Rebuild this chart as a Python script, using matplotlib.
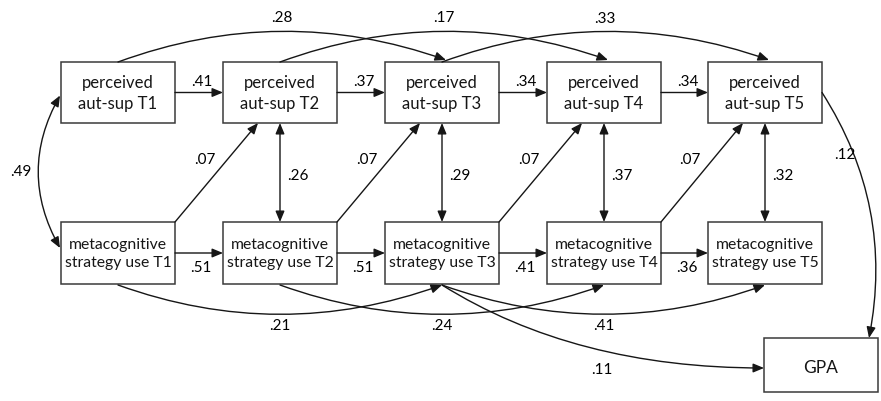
import matplotlib.pyplot as plt
from matplotlib.patches import Rectangle

plt.rcParams['font.family'] = ['Lato', 'DejaVu Sans']

# path model values
aut_labels = ['perceived\naut-sup T1', 'perceived\naut-sup T2', 'perceived\naut-sup T3',
              'perceived\naut-sup T4', 'perceived\naut-sup T5']
meta_labels = ['metacognitive\nstrategy use T1', 'metacognitive\nstrategy use T2',
               'metacognitive\nstrategy use T3', 'metacognitive\nstrategy use T4',
               'metacognitive\nstrategy use T5']
outcome_label = 'GPA'
aut_stability = [0.41, 0.37, 0.34, 0.34]    # aut T(i) -> aut T(i+1)
meta_stability = [0.51, 0.51, 0.41, 0.36]   # meta T(i) -> meta T(i+1)
meta_to_aut = [0.07, 0.07, 0.07, 0.07]      # meta T(i) -> aut T(i+1)
within_corr = [0.49, 0.26, 0.29, 0.37, 0.32]
aut_lag2 = [0.28, 0.17, 0.33]               # aut T(i) -> aut T(i+2)
meta_lag2 = [0.21, 0.24, 0.41]              # meta T(i) -> meta T(i+2)
gpa_from_aut5 = 0.12
gpa_from_meta3 = 0.11

# layout (pixel coordinates, y pointing down)
W, H = 881, 401
box_left = [61, 223, 385, 547, 708]
box_w = 114
top_y0, top_y1 = 62, 123
bot_y0, bot_y1 = 222, 284
gpa_box = (764, 338, 114, 54)

line_c = '#161616'
box_c = '#3a3a3a'
fs = 11  # coefficient labels


def fmt(v):
    return f'{v:.2f}'[1:]


def arrow(ax, p0, p1, style='-|>', conn='arc3,rad=0'):
    ax.annotate('', xy=p1, xytext=p0,
                arrowprops=dict(arrowstyle=style + ',head_length=0.65,head_width=0.27',
                                connectionstyle=conn, color=line_c, lw=1.0,
                                shrinkA=0, shrinkB=0, mutation_scale=10))


def arc_mid(p0, p1, rad):
    # middle point of a matplotlib arc3 curve, in y-down data coords
    dx, dy = p1[0] - p0[0], p1[1] - p0[1]
    mx, my = (p0[0] + p1[0]) / 2, (p0[1] + p1[1]) / 2
    return mx - rad / 2 * dy, my + rad / 2 * dx


def box(ax, x, y, w, h, text, size, spacing=1.3, dy=0):
    ax.add_patch(Rectangle((x, y), w, h, facecolor='white', edgecolor=box_c, lw=1.1, zorder=3))
    ax.text(x + w / 2, y + h / 2 + dy, text, ha='center', va='center', fontsize=size,
            color=line_c, linespacing=spacing, zorder=4)


fig = plt.figure(figsize=(W / 100, H / 100), dpi=100)
ax = fig.add_axes([0, 0, 1, 1])
ax.set_xlim(0, W)
ax.set_ylim(H, 0)
ax.axis('off')

for i in range(5):
    box(ax, box_left[i], top_y0, box_w, top_y1 - top_y0, aut_labels[i], 12, 1.38, dy=1)
    box(ax, box_left[i], bot_y0, box_w, bot_y1 - bot_y0, meta_labels[i], 11.3, 1.45, dy=1)
box(ax, *gpa_box, outcome_label, 12.5, dy=3)

centers = [x + box_w / 2 for x in box_left]
top_mid = (top_y0 + top_y1) / 2
bot_mid = (bot_y0 + bot_y1) / 2

# autoregressive paths
for i in range(4):
    x0, x1 = box_left[i] + box_w, box_left[i + 1]
    arrow(ax, (x0, top_mid), (x1, top_mid))
    ax.text((x0 + x1) / 2 + 3, top_mid - 11, fmt(aut_stability[i]), ha='center', va='center', fontsize=fs)
    arrow(ax, (x0, bot_mid), (x1, bot_mid))
    ax.text((x0 + x1) / 2 + 2, bot_mid + 15, fmt(meta_stability[i]), ha='center', va='center', fontsize=fs)

# cross-lagged paths meta -> aut
for i in range(4):
    p0 = (box_left[i] + box_w, bot_y0)
    p1 = (box_left[i + 1] + 35, top_y1)
    arrow(ax, p0, p1)
    ax.text((p0[0] + p1[0]) / 2 - 12, (p0[1] + p1[1]) / 2 - 13, fmt(meta_to_aut[i]),
            ha='center', va='center', fontsize=fs)

# within-time correlations
rad49 = 0.28
p0, p1 = (box_left[0] - 1, top_mid + 3), (box_left[0] - 1, bot_mid - 5)
arrow(ax, p0, p1, style='<|-|>', conn=f'arc3,rad={rad49}')
mx, my = arc_mid(p0, p1, rad49)
ax.text(mx - 18, my, fmt(within_corr[0]), ha='center', va='center', fontsize=fs)
for i in range(1, 5):
    arrow(ax, (centers[i], top_y1), (centers[i], bot_y0), style='<|-|>')
    ax.text(centers[i] + 18, 176, fmt(within_corr[i]), ha='center', va='center', fontsize=fs)

# lag-2 paths
rad_top, rad_bot = -0.18, 0.18
for i in range(3):
    p0 = (centers[i], top_y0)
    p1 = (centers[i + 2] + 4, top_y0 - 2)
    arrow(ax, p0, p1, conn=f'arc3,rad={rad_top}')
    mx, my = arc_mid(p0, p1, rad_top)
    ax.text(mx, my - 13, fmt(aut_lag2[i]), ha='center', va='center', fontsize=fs)

    p0 = (centers[i], bot_y1 + 1)
    p1 = (centers[i + 2], bot_y1 + 1)
    arrow(ax, p0, p1, conn=f'arc3,rad={rad_bot}')
    mx, my = arc_mid(p0, p1, rad_bot)
    ax.text(mx, my + 12, fmt(meta_lag2[i]), ha='center', va='center', fontsize=fs)

# paths to GPA
gx, gy, gw, gh = gpa_box
p0, p1 = (box_left[4] + box_w, top_mid), (gx + 105, gy)
arrow(ax, p0, p1, conn='arc3,rad=-0.2')
ax.text(845, 155, fmt(gpa_from_aut5), ha='center', va='center', fontsize=fs)

p0, p1 = (centers[2], bot_y1 + 1), (gx, gy + gh / 2 + 3)
arrow(ax, p0, p1, conn='angle3,angleA=-32,angleB=0')
ax.text(602, 370, fmt(gpa_from_meta3), ha='center', va='center', fontsize=fs)

fig.savefig('out.png', dpi=100)
